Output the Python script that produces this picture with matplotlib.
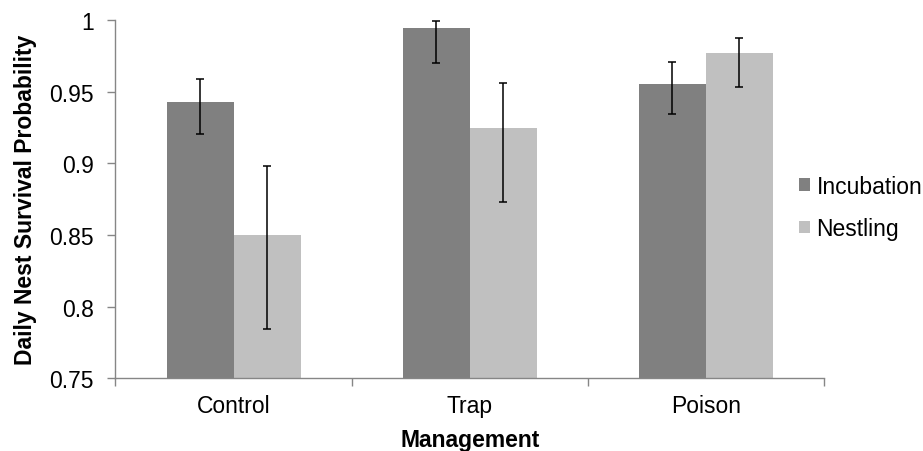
import matplotlib
matplotlib.use("Agg")
import matplotlib.pyplot as plt
import numpy as np

categories = ["Control", "Trap", "Poison"]
incubation = [0.9425, 0.9946, 0.9555]
incubation_lo = [0.9206, 0.9700, 0.9344]
incubation_hi = [0.9586, 0.9990, 0.9705]
nestling = [0.8500, 0.9244, 0.9767]
nestling_lo = [0.7844, 0.8731, 0.9532]
nestling_hi = [0.8980, 0.9558, 0.9876]
yticks = [0.75, 0.8, 0.85, 0.9, 0.95, 1]
ytick_labels = ["0.75", "0.8", "0.85", "0.9", "0.95", "1"]

plt.rcParams['font.family'] = ['Liberation Sans', 'DejaVu Sans']
FS = 16.5

fig = plt.figure(figsize=(9.23, 4.52), dpi=100)
ax = fig.add_axes([115.5/923, 1-379.3/452, (824-115.5)/923, (379.3-21)/452])

x = np.arange(len(categories))
w = 0.284
inc = np.array(incubation); nes = np.array(nestling)
inc_err = [inc - np.array(incubation_lo), np.array(incubation_hi) - inc]
nes_err = [nes - np.array(nestling_lo), np.array(nestling_hi) - nes]

ax.bar(x - w/2, inc, w, color="#808080", label="Incubation", zorder=2)
ax.bar(x + w/2, nes, w, color="#c0c0c0", label="Nestling", zorder=2)
ax.errorbar(x - w/2, inc, yerr=inc_err, fmt="none", ecolor="black", elinewidth=1.1, capsize=2.8, capthick=1.1, zorder=3)
ax.errorbar(x + w/2, nes, yerr=nes_err, fmt="none", ecolor="black", elinewidth=1.1, capsize=2.8, capthick=1.1, zorder=3)

ax.set_xlim(-0.5, 2.5)
ax.set_ylim(0.75, 1.0)
ax.set_yticks(yticks)
ax.set_yticklabels(ytick_labels, fontsize=FS)
ax.set_xticks([-0.5, 0.5, 1.5, 2.5])
ax.set_xticklabels([])
ax.set_xticks(x, minor=True)
ax.set_xticklabels(categories, minor=True, fontsize=FS)
ax.tick_params(axis="x", which="minor", length=0, pad=11)
ax.tick_params(axis="x", which="major", length=6, color="#868686", width=1)
ax.tick_params(axis="y", length=6, color="#868686", width=1, pad=9.5)

for s in ["top", "right"]:
    ax.spines[s].set_visible(False)
for s in ["left", "bottom"]:
    ax.spines[s].set_color("#868686")
    ax.spines[s].set_linewidth(1)

ax.set_xlabel("Management", fontsize=FS, fontweight="bold", labelpad=8)
ax.set_ylabel("Daily Nest Survival Probability", fontsize=FS, fontweight="bold", labelpad=9)

leg = fig.legend(loc="center left", bbox_to_anchor=(799/923, 1-208.3/452), frameon=False,
                 fontsize=FS, handlelength=0.48, handleheight=0.48, handletextpad=0.28,
                 labelspacing=0.85, borderpad=0, borderaxespad=0)

fig.savefig("out.png", dpi=100)
